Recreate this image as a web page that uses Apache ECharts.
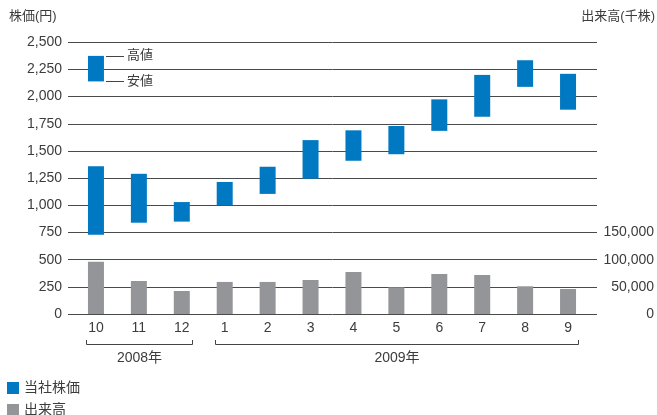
<!DOCTYPE html>
<html>
<head>
<meta charset="utf-8">
<script src="https://cdn.jsdelivr.net/npm/echarts@6/dist/echarts.min.js"></script>
<style>
html,body{margin:0;padding:0;background:#fff;}
#main{width:657px;height:415px;}
</style>
</head>
<body>
<div id="main"></div>
<script>
// ---- data ----
const months = ['10','11','12','1','2','3','4','5','6','7','8','9'];
const priceHigh = [1360, 1290, 1030, 1215, 1355, 1600, 1690, 1730, 1975, 2200, 2335, 2210];
const priceLow  = [730, 840, 850, 1000, 1105, 1245, 1410, 1470, 1685, 1815, 2090, 1880];
const volume    = [96000, 60700, 42300, 59000, 59000, 62600, 77300, 49100, 73600, 71800, 51000, 46000];
const priceAxis = {min: 0, max: 2500, interval: 250};
const volumeAxis = {min: 0, max: 500000, interval: 50000, labelMax: 150000};
const years = ['2008年', '2009年'];
const yearFirst = [0, 3];
const yearLast = [2, 11];
const keyHigh = 2375, keyLow = 2140;

const FONT = '"Liberation Sans", Arial, "Noto Sans CJK JP", sans-serif';
const TXT = '#3c3c3c';
const BLUE = '#0079c2';
const GREY = '#939598';

const chart = echarts.init(document.getElementById('main'), null, {renderer: 'canvas'});
const TOP = 42.3, BOTTOM = 415 - 314;
const fmt = v => v.toLocaleString('en-US');
const legendBase = {
  left: 2, itemWidth: 12, itemHeight: 12, icon: 'rect', itemGap: 6,
  textStyle: {color: TXT, fontSize: 14, fontFamily: FONT}, itemStyle: {borderWidth: 0}
};

const option = {
  animation: false,
  textStyle: {fontFamily: FONT},
  grid: [
    {left: 68, right: 59, top: TOP, bottom: BOTTOM},
    {left: 74.5, right: 67.5, top: TOP, bottom: BOTTOM}
  ],
  xAxis: [
    {gridIndex: 0, type: 'value', min: 0, max: 1, show: false},
    {gridIndex: 1, type: 'category', data: months,
     axisLine: {show: false}, axisTick: {show: false},
     axisLabel: {color: TXT, fontSize: 14, margin: 7, fontFamily: FONT}}
  ],
  yAxis: [
    {gridIndex: 0, type: 'value', min: priceAxis.min, max: priceAxis.max, interval: priceAxis.interval,
     axisLine: {show: false}, axisTick: {show: false},
     axisLabel: {color: TXT, fontSize: 14, margin: 6, formatter: v => fmt(v), fontFamily: FONT},
     splitLine: {lineStyle: {color: '#4a4a4a', width: 1}}},
    {gridIndex: 0, type: 'value', position: 'right', min: volumeAxis.min, max: volumeAxis.max, interval: volumeAxis.interval,
     axisLine: {show: false}, axisTick: {show: false}, splitLine: {show: false},
     axisLabel: {color: TXT, fontSize: 14, margin: 57, align: 'right', fontFamily: FONT,
       formatter: v => v <= volumeAxis.labelMax ? fmt(v) : ''}},
    {gridIndex: 1, type: 'value', min: priceAxis.min, max: priceAxis.max, show: false},
    {gridIndex: 1, type: 'value', min: volumeAxis.min, max: volumeAxis.max, show: false}
  ],
  legend: [
    Object.assign({top: 376, data: ['当社株価']}, legendBase),
    Object.assign({top: 398, data: ['出来高']}, legendBase)
  ],
  series: [
    {name: 'base', type: 'bar', xAxisIndex: 1, yAxisIndex: 2, stack: 'price', barWidth: 16,
     itemStyle: {color: 'transparent'}, silent: true, data: priceLow},
    {name: '当社株価', type: 'bar', xAxisIndex: 1, yAxisIndex: 2, stack: 'price', barWidth: 16,
     itemStyle: {color: BLUE}, data: priceHigh.map((h, i) => h - priceLow[i])},
    {name: '出来高', type: 'bar', xAxisIndex: 1, yAxisIndex: 3, barWidth: 16, barGap: '-100%',
     itemStyle: {color: GREY}, data: volume}
  ]
};
chart.setOption(option);

// annotations (brackets, titles, key)
const g = [];
const cx = i => chart.convertToPixel({xAxisIndex: 1}, i);
const py = v => chart.convertToPixel({yAxisIndex: 2}, v);
const lineStyle = {stroke: '#444', lineWidth: 1};
years.forEach((y, k) => {
  const x1 = Math.round(cx(yearFirst[k]) - 10) + 0.5;
  const x2 = Math.round(cx(yearLast[k]) + 10) + 0.5;
  const yy = 344.5, yt = 340;
  g.push({type: 'polyline', shape: {points: [[x1, yt], [x1, yy], [x2, yy], [x2, yt]]}, style: {fill: null, ...lineStyle}});
  g.push({type: 'text', x: (x1 + x2) / 2, y: 358, style: {text: y, fill: TXT, font: '14px ' + FONT, textAlign: 'center', textVerticalAlign: 'middle'}});
});
g.push({type: 'text', x: 9, y: 16, style: {text: '株価(円)', fill: TXT, font: '13px ' + FONT, textVerticalAlign: 'middle'}});
g.push({type: 'text', x: 655, y: 16, style: {text: '出来高(千株)', fill: TXT, font: '13px ' + FONT, textAlign: 'right', textVerticalAlign: 'middle'}});
// key for high/low
const kx = cx(0);
const yH = py(keyHigh), yL = py(keyLow);
g.push({type: 'rect', shape: {x: kx - 8, y: yH, width: 16, height: yL - yH}, style: {fill: BLUE}});
g.push({type: 'line', shape: {x1: kx + 10, y1: Math.round(yH) + 0.5, x2: kx + 28, y2: Math.round(yH) + 0.5}, style: lineStyle});
g.push({type: 'line', shape: {x1: kx + 10, y1: Math.round(yL) + 0.5, x2: kx + 28, y2: Math.round(yL) + 0.5}, style: lineStyle});
g.push({type: 'text', x: kx + 31, y: yH, style: {text: '高値', fill: TXT, font: '13px ' + FONT, textVerticalAlign: 'middle'}});
g.push({type: 'text', x: kx + 31, y: yL, style: {text: '安値', fill: TXT, font: '13px ' + FONT, textVerticalAlign: 'middle'}});
chart.setOption({graphic: g});
</script>
</body>
</html>
